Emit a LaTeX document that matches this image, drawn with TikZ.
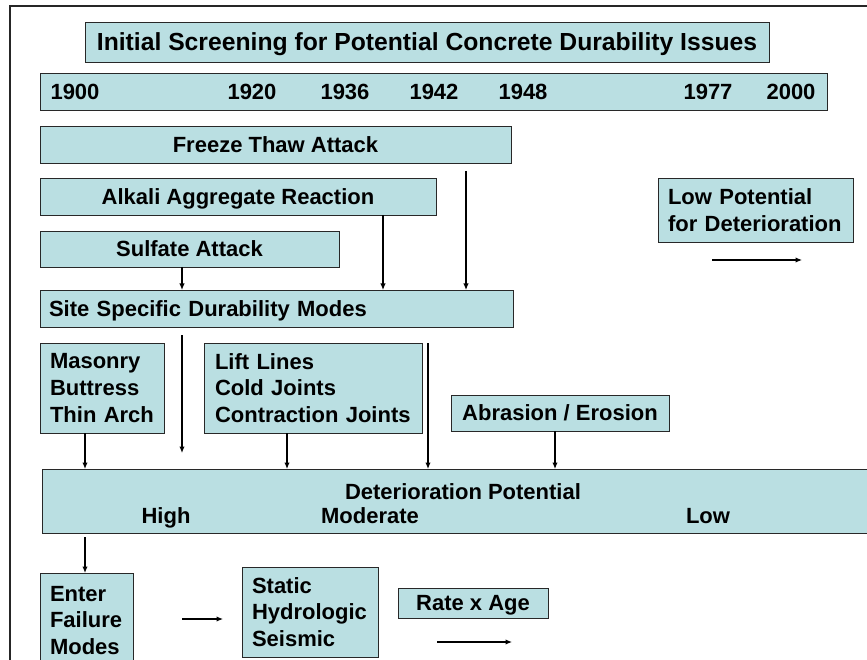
\documentclass[tikz,border=0pt]{standalone}
\usepackage{fontspec}
\setmainfont{Liberation Sans}
\usetikzlibrary{arrows.meta}
\definecolor{boxfill}{RGB}{186,223,226}
\definecolor{boxline}{RGB}{40,40,40}

\begin{document}
\begin{tikzpicture}[x=1pt,y=-1pt,
  box/.style={draw=boxline, line width=0.9pt, fill=boxfill, inner sep=0pt, outer sep=0pt, anchor=north west},
  lbl/.style={font=\bfseries\fontsize{22}{26.7}\selectfont, inner sep=0pt},
  one/.style={lbl, text height=15.75pt, text depth=0pt},
  multi/.style={lbl, align=left},
  arr/.style={line width=1.2pt, -{Latex[length=6.5pt,width=5.5pt]}}
]
\useasboundingbox (0,0) rectangle (867,660);
\clip (0,0) rectangle (867,660);

% slide frame (only the top and left edges fall inside the view)
\draw[line width=1.4pt, black!85] (10,700) -- (10,6) -- (900,6);

% heading and time line
\node[box, one, font=\bfseries\fontsize{24.7}{30}\selectfont, text height=17.7pt,
      minimum width=684, minimum height=40] (title) at (85,22)
      {Initial Screening for Potential Concrete Durability Issues};
\node[box, minimum width=787, minimum height=37] (years) at (40,73) {};
\foreach \yr/\xc in {1900/75, 1920/252, 1936/345, 1942/434, 1948/523, 1977/708, 2000/791}
  \node[one, anchor=base] (y\yr) at (\xc,99.5) {\yr};

% durability mechanisms
\node[box, one, minimum width=471, minimum height=37] (freeze) at (40,126) {Freeze Thaw Attack};
\node[box, one, minimum width=396, minimum height=37] (alkali) at (40,178) {Alkali Aggregate Reaction};
\node[box, one, minimum width=299, minimum height=36] (sulfate) at (40,231) {Sulfate Attack};
\node[box, one, align=left, text width=455, inner xsep=9pt, minimum height=37] (site) at (40,290)
      {Site Specific Durability Modes};

\node[box, multi, text width=175, inner xsep=10pt, minimum height=64] (lowpot) at (658,178)
      {Low Potential\\for Deterioration};

% site specific modes
\node[box, multi, text width=104, inner xsep=10pt, minimum height=90] (masonry) at (40,343)
      {Masonry\\Buttress\\Thin Arch};
\node[box, multi, text width=196, inner xsep=11pt, minimum height=90] (lift) at (204,343)
      {Lift Lines\\Cold Joints\\Contraction Joints};
\node[box, one, minimum width=218, minimum height=36] (abrasion) at (451,395) {Abrasion / Erosion};

% deterioration potential scale
\node[box, minimum width=850, minimum height=64] (det) at (42,469) {};
\node[one, anchor=base] (detpot) at (463,499) {Deterioration Potential};
\node[one, anchor=base] (high) at (166,523) {High};
\node[one, anchor=base] (moderate) at (370,523) {Moderate};
\node[one, anchor=base] (low) at (708,523) {Low};

% failure mode stage
\node[box, multi, text width=73, inner xsep=10pt, minimum height=95] (enter) at (40,573)
      {Enter\\Failure\\Modes};
\node[box, multi, text width=116, inner xsep=10pt, minimum height=90] (static) at (242,567)
      {Static\\Hydrologic\\Seismic};
\node[box, one, minimum width=150, minimum height=30] (rate) at (398,588) {Rate x Age};

% connector columns and free ends
\coordinate (colA) at (182,0);
\coordinate (colB) at (383,0);
\coordinate (colC) at (85,0);
\coordinate (colD) at (287,0);
\coordinate (colE) at (555,0);
\coordinate (ftStart) at (466,171);
\coordinate (sfStart) at (182,335);
\coordinate (sfEnd) at (182,453);
\coordinate (liftSide) at (428,343);
\coordinate (detOut) at (85,537);
\coordinate (fmA) at (182,619);
\coordinate (fmB) at (223,619);
\coordinate (raA) at (437,642);
\coordinate (raB) at (512,642);
\coordinate (lpA) at (712,260);
\coordinate (lpB) at (802,260);

\draw[arr] (sulfate.south -| colA) -- (site.north -| colA);
\draw[arr] (alkali.south -| colB) -- (site.north -| colB);
\draw[arr] (ftStart) -- (ftStart |- site.north);
\draw[arr] (sfStart) -- (sfEnd);
\draw[arr] (masonry.south -| colC) -- (det.north -| colC);
\draw[arr] (lift.south -| colD) -- (det.north -| colD);
\draw[arr] (liftSide) -- (liftSide |- det.north);
\draw[arr] (abrasion.south -| colE) -- (det.north -| colE);
\draw[arr] (detOut) -- (detOut |- enter.north);
\draw[arr] (fmA) -- (fmB);
\draw[arr] (raA) -- (raB);
\draw[arr] (lpA) -- (lpB);
\end{tikzpicture}
\end{document}
